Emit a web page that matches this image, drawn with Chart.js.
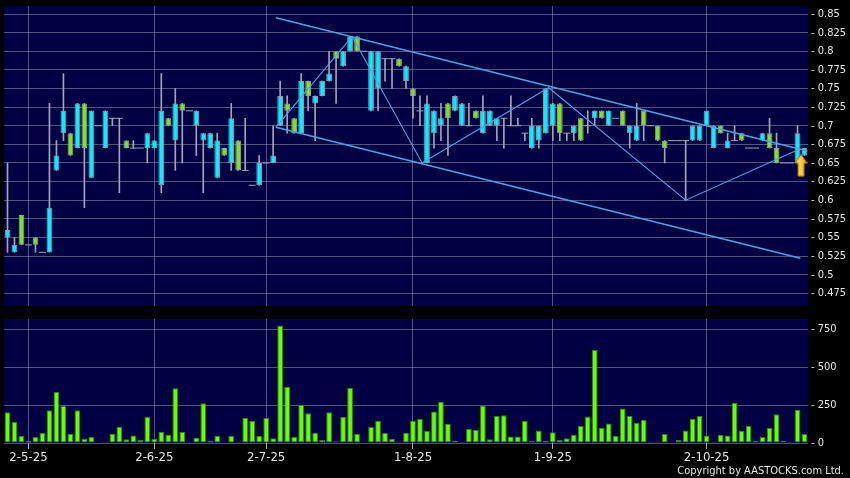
<!DOCTYPE html>
<html>
<head>
<meta charset="utf-8">
<script src="https://cdn.jsdelivr.net/npm/chart.js@4.4.1/dist/chart.umd.min.js"></script>
<style>
  html, body { margin: 0; padding: 0; background: #000; }
  body { width: 850px; height: 478px; position: relative; overflow: hidden;
         font-family: 'DejaVu Sans Condensed', 'DejaVu Sans', sans-serif; }
  #priceBox { position: absolute; left: 0; top: 0; width: 850px; height: 312px; }
  #volBox { position: absolute; left: 0; top: 312px; width: 850px; height: 166px; }
  #copy { position: absolute; right: 6px; top: 464px; line-height: 13px; color: #e8e8e8;
          font-size: 11px; white-space: nowrap; }
</style>
</head>
<body>
<div id="priceBox"><canvas id="price"></canvas></div>
<div id="volBox"><canvas id="vol"></canvas></div>
<div id="copy">Copyright by AASTOCKS.com Ltd.</div>
<script>
// daily OHLC, oldest first (115 sessions)
const opens = [
  .55,.53,.58,.54,.55,.53,.53,.64,.69,.69, .67,.73,.63,.70,.67,.71,.71,.68,.67,.67,
  .67,.67,.62,.71,.68,.73,.72,.70,.68,.67, .63,.67,.65,.68,.64,.62,.62,.65,.65,.70,
  .73,.71,.69,.76,.73,.74,.76,.80,.78,.80, .82,.80,.72,.75,.79,.79,.79,.76,.75,.72,
  .65,.69,.70,.73,.72,.70,.70,.72,.69,.70, .70,.71,.70,.70,.69,.67,.68,.69,.70,.73,
  .69,.69,.71,.70,.71,.72,.70,.71,.72,.69, .68,.72,.70,.70,.68,.68,.68,.68,.68,.68,
  .70,.67,.70,.67,.68,.69,.67,.67,.68,.69, .67,.65,.65,.65,.66
];
const highs = [
  .65,.55,.58,.54,.55,.53,.73,.68,.77,.69, .73,.73,.72,.70,.72,.71,.71,.68,.68,.67,
  .69,.68,.77,.71,.75,.73,.72,.72,.69,.69, .69,.67,.73,.68,.71,.62,.66,.65,.70,.76,
  .74,.71,.77,.76,.74,.76,.80,.80,.80,.82, .82,.80,.80,.80,.79,.79,.79,.78,.75,.74,
  .74,.72,.73,.73,.74,.73,.73,.72,.74,.72, .71,.71,.74,.71,.69,.71,.70,.75,.73,.73,
  .69,.70,.71,.72,.72,.72,.72,.71,.72,.70, .73,.72,.70,.70,.68,.68,.68,.68,.70,.70,
  .72,.70,.70,.69,.70,.69,.67,.67,.69,.71, .69,.65,.65,.70,.67
];
const lows = [
  .53,.53,.54,.54,.53,.53,.53,.64,.68,.66, .67,.59,.63,.70,.67,.70,.61,.67,.67,.67,
  .65,.67,.61,.70,.64,.65,.72,.66,.61,.67, .63,.66,.64,.64,.64,.62,.62,.65,.65,.70,
  .69,.69,.69,.72,.68,.74,.76,.73,.78,.80, .80,.80,.72,.72,.76,.75,.78,.75,.71,.70,
  .65,.67,.68,.66,.72,.70,.70,.71,.69,.70, .68,.67,.70,.70,.68,.67,.67,.69,.68,.68,
  .68,.68,.68,.69,.70,.71,.70,.71,.70,.67, .68,.68,.70,.68,.65,.68,.68,.60,.68,.68,
  .70,.67,.69,.67,.68,.68,.67,.67,.68,.67, .65,.65,.65,.65,.66
];
const closes = [
  .56,.54,.54,.54,.54,.53,.59,.66,.72,.66, .73,.67,.72,.70,.72,.71,.71,.67,.67,.67,
  .69,.68,.72,.70,.73,.72,.72,.72,.69,.69, .68,.66,.71,.64,.64,.62,.65,.65,.66,.74,
  .72,.69,.76,.74,.74,.76,.77,.79,.80,.82, .80,.80,.80,.80,.79,.79,.78,.78,.74,.72,
  .73,.72,.71,.71,.74,.73,.70,.71,.72,.72, .71,.71,.70,.70,.69,.70,.70,.75,.73,.69,
  .69,.70,.68,.70,.72,.71,.72,.71,.70,.70, .70,.70,.70,.68,.67,.68,.68,.68,.70,.70,
  .72,.70,.69,.68,.68,.68,.67,.67,.69,.67, .65,.65,.65,.69,.67
];
// volume, thousands of shares
const volumes = [
  203,138,46,15,39,66,216,337,243,61, 216,28,39,4,9,61,107,24,50,20,
  173,28,74,55,361,72,4,35,262,15, 48,4,48,9,166,144,46,166,31,774,
  370,39,251,195,68,20,203,11,171,363, 59,1,105,147,66,28,9,68,147,160,
  81,208,271,127,15,7,94,87,247,24, 177,182,42,42,144,15,83,15,70,20,
  31,55,114,175,612,101,129,48,227,179, 133,151,7,9,59,1,20,83,160,177,
  50,9,55,50,265,79,114,15,39,101, 190,13,9,219,59
];

// date ticks on the time axis (session index -> label)
const dateTickBars = [3, 21, 37, 58, 78, 100];
const dateTicks = ['2-5-25', '2-6-25', '2-7-25', '1-8-25', '1-9-25', '2-10-25'];
const priceTicks = [0.475, 0.5, 0.525, 0.55, 0.575, 0.6, 0.625, 0.65, 0.675, 0.7, 0.725, 0.75, 0.775, 0.8, 0.825, 0.85];
const volumeTicks = [0, 250, 500, 750];

// drawn trend lines, x in session index units
const upperChannel = [{x: 38.4, y: 0.845}, {x: 114.4, y: 0.666}];
const lowerChannel = [{x: 38.4, y: 0.698}, {x: 113.4, y: 0.522}];
const zigzag = [
  {x: 38.4, y: 0.698}, {x: 49.3, y: 0.82}, {x: 59.3, y: 0.65},
  {x: 77.4, y: 0.751}, {x: 97.0, y: 0.60}, {x: 113.4, y: 0.669}
];
const lastMarker = [{x: 113.5, y: 0.647}];

Chart.defaults.font.family = "'DejaVu Sans Condensed', 'DejaVu Sans', sans-serif";
Chart.defaults.animation = false;

const UP = '#00f0ff', DOWN = '#7ee21e', WICK = '#a4a4b4', TREND = '#4aa6e2';
const GRID = 'rgba(150,150,185,0.55)';
const TEXT = '#e6e6e6';

const bars = opens.map((_, i) => i);
const isDoji = i => opens[i] === closes[i];
const bodyData = bars.map(i => isDoji(i) ? null : [opens[i], closes[i]]);
const bodyColor = bars.map(i => closes[i] > opens[i] ? UP : DOWN);
const wickData = bars.map(i => highs[i] > lows[i] ? [lows[i], highs[i]] : null);
const dojiData = bars.map(i => isDoji(i) ? closes[i] : null);

// navy plot area on black page
const plotBg = {
  id: 'plotBg',
  beforeDraw(chart) {
    const { ctx, chartArea: a } = chart;
    ctx.save();
    ctx.fillStyle = '#000042';
    ctx.fillRect(a.left, a.top, a.right - a.left, a.bottom - a.top);
    ctx.restore();
  }
};

function makeArrow() {
  const c = document.createElement('canvas');
  c.width = 14; c.height = 24;
  const g = c.getContext('2d');
  const grad = g.createLinearGradient(0, 0, 14, 0);
  grad.addColorStop(0, '#fff27a');
  grad.addColorStop(1, '#f0a400');
  g.beginPath();
  g.moveTo(7, 1); g.lineTo(13, 10); g.lineTo(10, 10); g.lineTo(10, 23);
  g.lineTo(4, 23); g.lineTo(4, 10); g.lineTo(1, 10); g.closePath();
  g.fillStyle = grad; g.fill();
  g.strokeStyle = '#b86a00'; g.lineWidth = 1; g.stroke();
  return c;
}

// one linear session axis, so bars and trend lines share the same scale
const dateAxis = (showLabels) => ({
  type: 'linear',
  min: -0.5, max: bars.length - 0.5,
  offset: false, bounds: 'data',
  grid: {
    color: GRID, borderDash: [3, 3], offset: false,
    drawTicks: showLabels, tickLength: 6, tickColor: '#b0b0b0', tickBorderDash: []
  },
  border: { display: false },
  ticks: {
    display: showLabels, autoSkip: false, maxRotation: 0, color: TEXT,
    font: { size: 13 }, padding: 1,
    callback: v => dateTicks[dateTickBars.indexOf(v)]
  },
  afterBuildTicks: axis => { axis.ticks = dateTickBars.map(v => ({ value: v })); },
  afterFit: axis => {
    axis.height = showLabels ? 35 : 0;
    axis.paddingLeft = 0; axis.paddingRight = 0;
  }
});

const valueAxis = (min, max, ticks) => ({
  type: 'linear',
  position: 'right',
  min, max,
  grid: { color: GRID, borderDash: [3, 3], drawTicks: false },
  border: { display: false },
  ticks: { color: TEXT, font: { size: 11 }, padding: 3, callback: v => '- ' + v },
  afterBuildTicks: axis => { axis.ticks = ticks.map(v => ({ value: v })); },
  afterFit: axis => {
    axis.width = 42;
    axis.paddingTop = 0; axis.paddingBottom = 0;
  }
});

new Chart(document.getElementById('price'), {
  type: 'bar',
  data: {
    labels: bars,
    datasets: [
      { type: 'line', data: lastMarker, showLine: false,
        pointStyle: makeArrow(), pointRadius: 7, order: -1 },
      { type: 'line', data: upperChannel, borderColor: TREND,
        borderWidth: 1.5, pointRadius: 0, order: 0 },
      { type: 'line', data: lowerChannel, borderColor: TREND,
        borderWidth: 1.5, pointRadius: 0, order: 0 },
      { type: 'line', data: zigzag, borderColor: TREND,
        borderWidth: 1.1, pointRadius: 0, order: 0 },
      { type: 'line', data: dojiData, showLine: false, pointStyle: 'line',
        pointRadius: 3.5, pointBorderColor: WICK, pointBorderWidth: 1, order: 2 },
      { data: bodyData, backgroundColor: bodyColor, borderColor: '#8c9ca8', borderWidth: 1,
        borderSkipped: false, barPercentage: 0.82, categoryPercentage: 1, grouped: false, order: 3 },
      { data: wickData, backgroundColor: WICK, barThickness: 1, grouped: false, order: 4 }
    ]
  },
  options: {
    responsive: true,
    maintainAspectRatio: false,
    layout: { autoPadding: false, padding: { left: 4, top: 6, right: 0, bottom: 6 } },
    plugins: { legend: { display: false }, tooltip: { enabled: false } },
    scales: {
      x: dateAxis(false),
      y: valueAxis(0.4579, 0.8608, priceTicks)
    }
  },
  plugins: [plotBg]
});

new Chart(document.getElementById('vol'), {
  type: 'bar',
  data: {
    labels: bars,
    datasets: [{
      data: volumes, backgroundColor: '#66ff00', borderColor: '#2f8a00', borderWidth: 1,
      borderSkipped: false, barPercentage: 0.82, categoryPercentage: 1
    }]
  },
  options: {
    responsive: true,
    maintainAspectRatio: false,
    layout: { autoPadding: false, padding: { left: 4, top: 7, right: 0, bottom: 0 } },
    plugins: { legend: { display: false }, tooltip: { enabled: false } },
    scales: {
      x: dateAxis(true),
      y: valueAxis(0, 816, volumeTicks)
    }
  },
  plugins: [plotBg]
});
</script>
</body>
</html>
